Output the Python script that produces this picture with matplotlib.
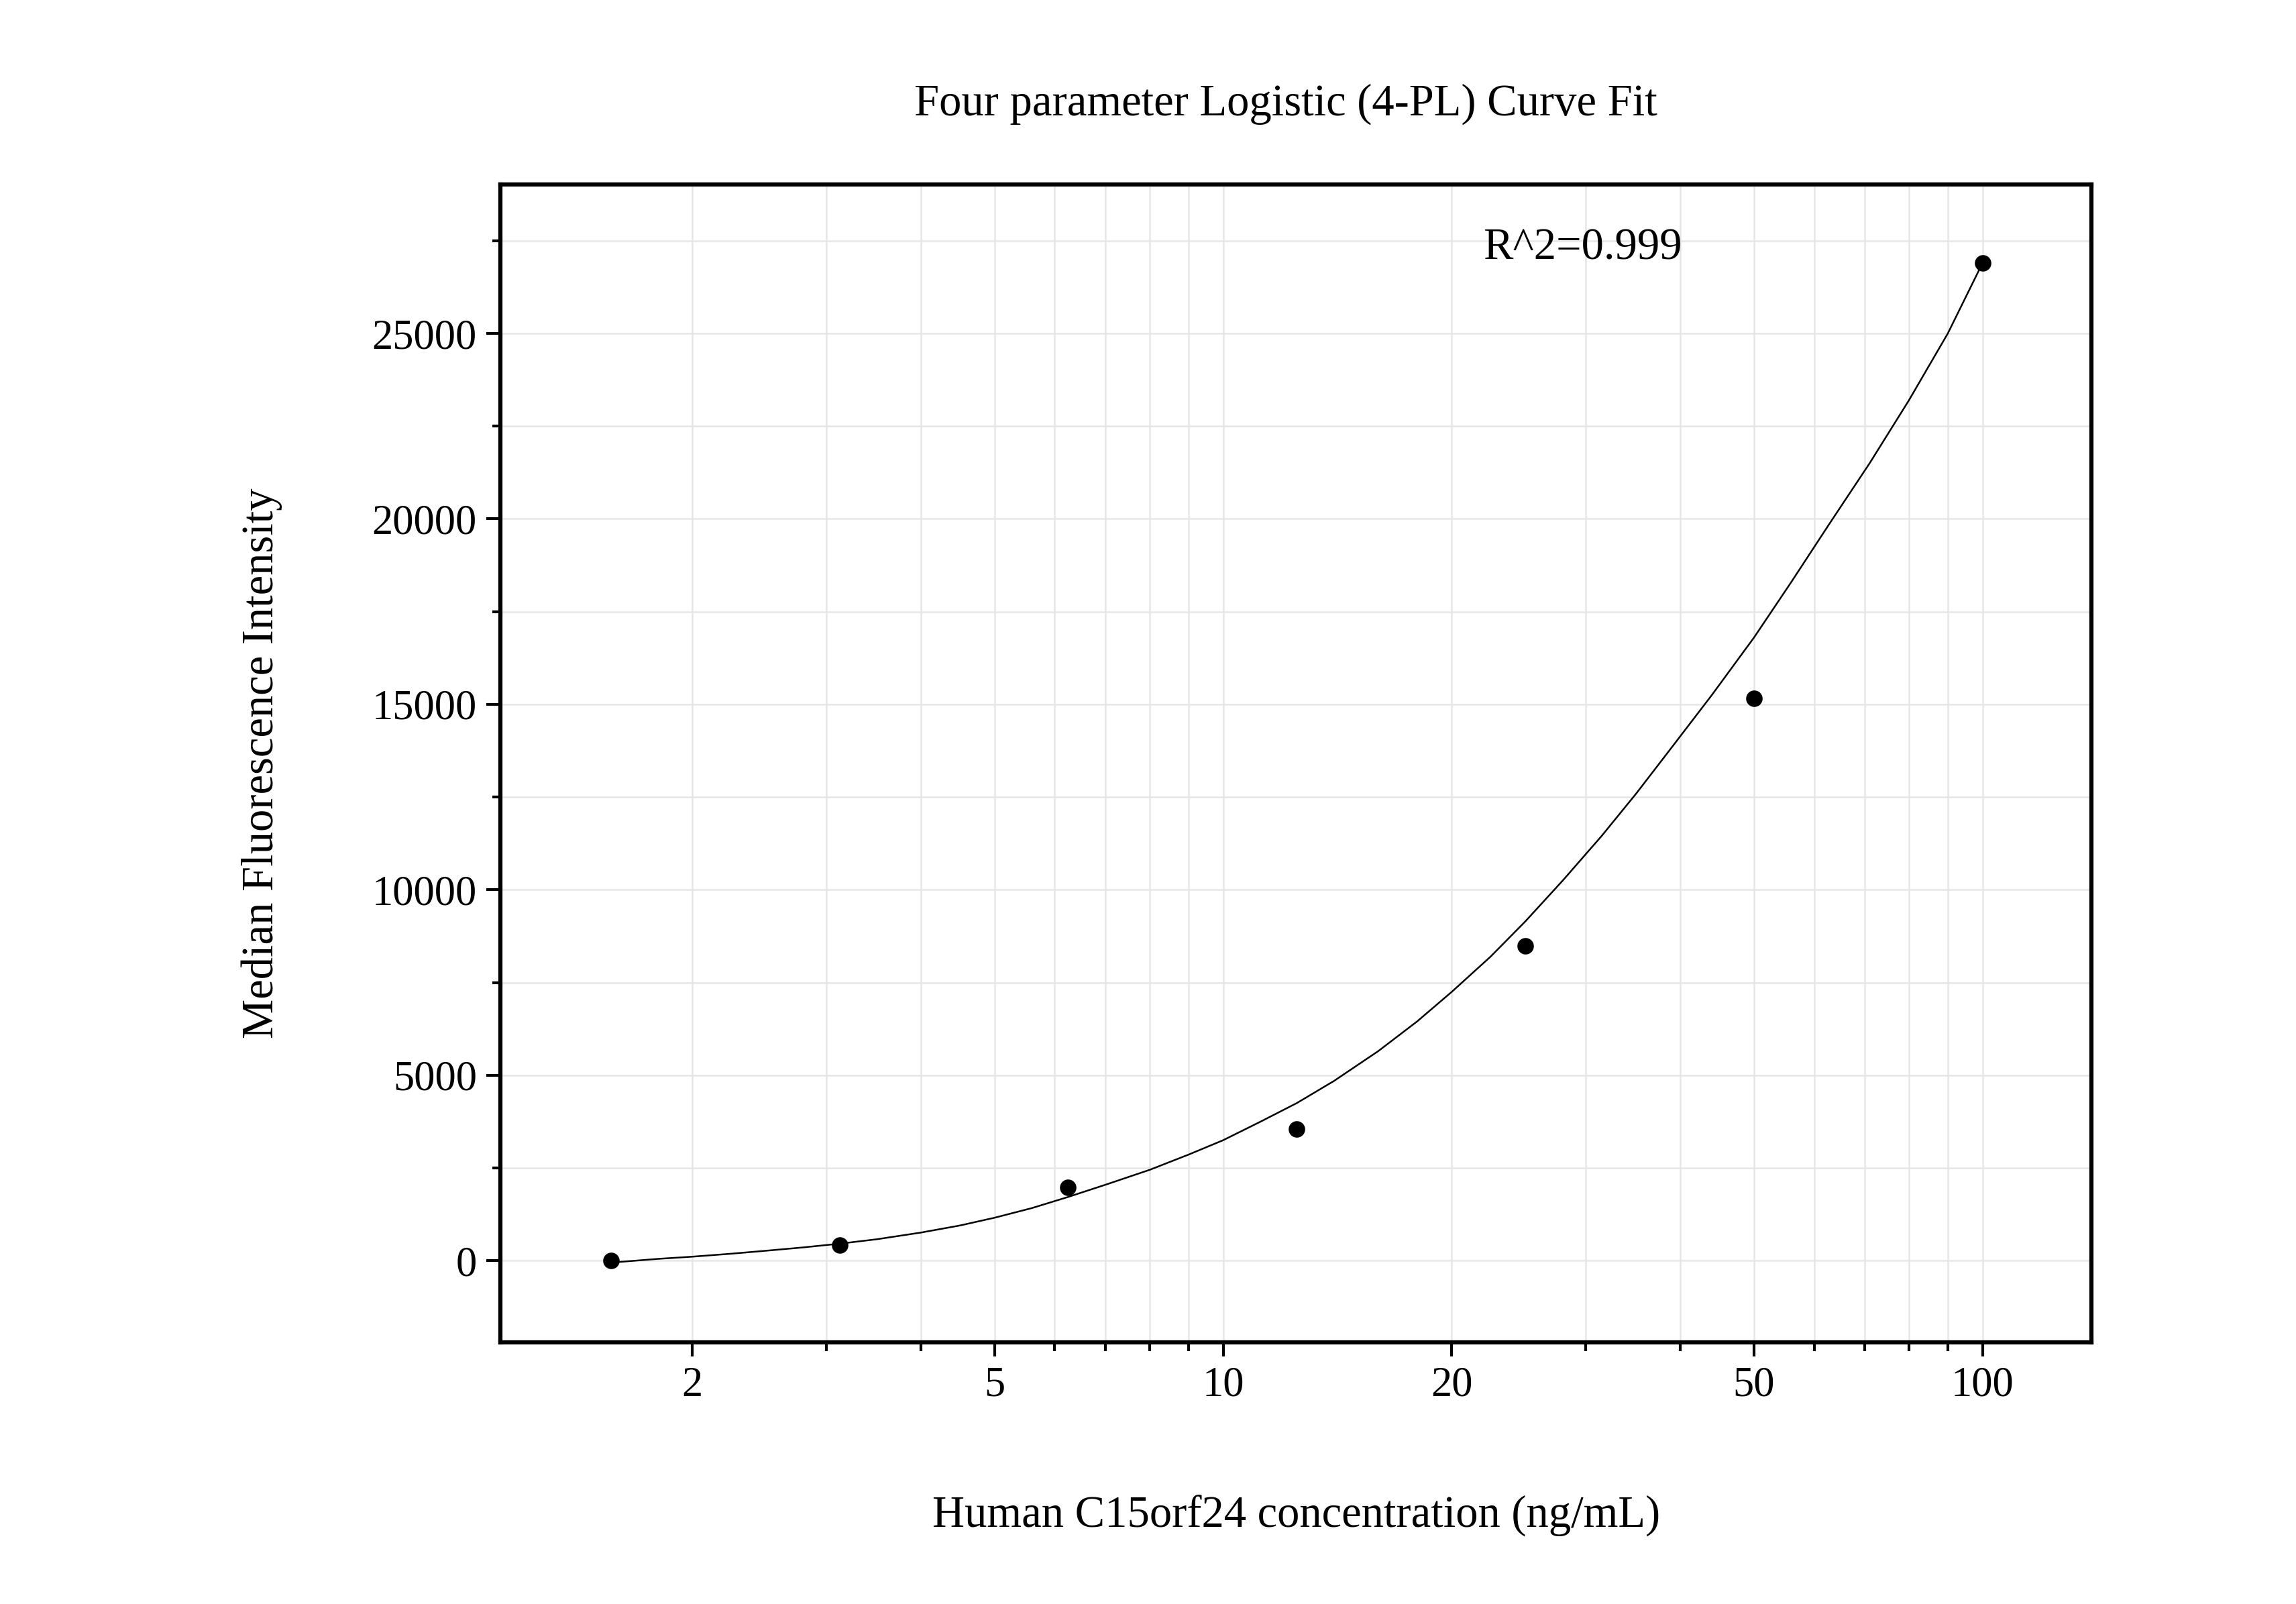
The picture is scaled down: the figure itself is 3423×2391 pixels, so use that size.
import matplotlib
matplotlib.use("Agg")
import matplotlib.pyplot as plt
from matplotlib.ticker import FixedLocator, MultipleLocator, NullFormatter

plt.rcParams["font.family"] = "Liberation Serif"

# measured standards
conc = [1.5625, 3.125, 6.25, 12.5, 25, 50, 100]
mfi = [0, 430, 1970, 3560, 8480, 15170, 26900]

# fitted curve
curve_x = [1.5625, 1.8, 2, 2.25, 2.5, 2.8, 3.125, 3.5, 4, 4.5, 5, 5.6, 6.25, 7, 8, 9, 10, 11.2, 12.5, 14, 16,
           18, 20, 22.5, 25, 28, 31.5, 35, 39, 44, 50, 56, 63, 71, 80, 90, 100]
curve_y = [-50, 50, 110, 190, 270, 360, 460, 580, 760, 950, 1160, 1420, 1720, 2050, 2450, 2860, 3250, 3750,
           4250, 4850, 5650, 6450, 7250, 8200, 9150, 10250, 11450, 12600, 13850, 15250, 16800, 18300,
           19900, 21500, 23200, 25000, 26900]

xticks = [2, 5, 10, 20, 50, 100]
xtick_labels = ["2", "5", "10", "20", "50", "100"]
yticks = [0, 5000, 10000, 15000, 20000, 25000]

fig = plt.figure(figsize=(3423 / 300, 2391 / 300), dpi=300)
ax = fig.add_axes([0.218, 0.163, 0.693, 0.722])

ax.plot(curve_x, curve_y, color="black", lw=0.6)
ax.scatter(conc, mfi, s=24, color="black", zorder=3)

ax.set_xscale("log")
ax.set_xlim(1.118, 139.2)
ax.set_ylim(-2205, 29016)
ax.xaxis.set_major_locator(FixedLocator(xticks))
ax.set_xticklabels(xtick_labels)
ax.xaxis.set_minor_locator(FixedLocator([3, 4, 6, 7, 8, 9, 30, 40, 60, 70, 80, 90]))
ax.xaxis.set_minor_formatter(NullFormatter())
ax.set_yticks(yticks)
ax.yaxis.set_minor_locator(MultipleLocator(2500))

ax.grid(True, which="both", color="#e6e6e6", lw=0.6)
ax.set_axisbelow(True)
for s in ax.spines.values():
    s.set_linewidth(1.5)
ax.tick_params(which="both", direction="out", labelsize=15, width=1)
ax.tick_params(which="major", length=5)
ax.tick_params(which="minor", length=3)

ax.set_xlabel("Human C15orf24 concentration (ng/mL)", fontsize=16, labelpad=32)
ax.set_ylabel("Median Fluorescence Intensity", fontsize=16, labelpad=32)
ax.text(22, 27000, "R^2=0.999", fontsize=16)
fig.text(0.56, 0.922, "Four parameter Logistic (4-PL) Curve Fit", ha="center", va="bottom", fontsize=16)

fig.savefig("out.png", dpi=300)
